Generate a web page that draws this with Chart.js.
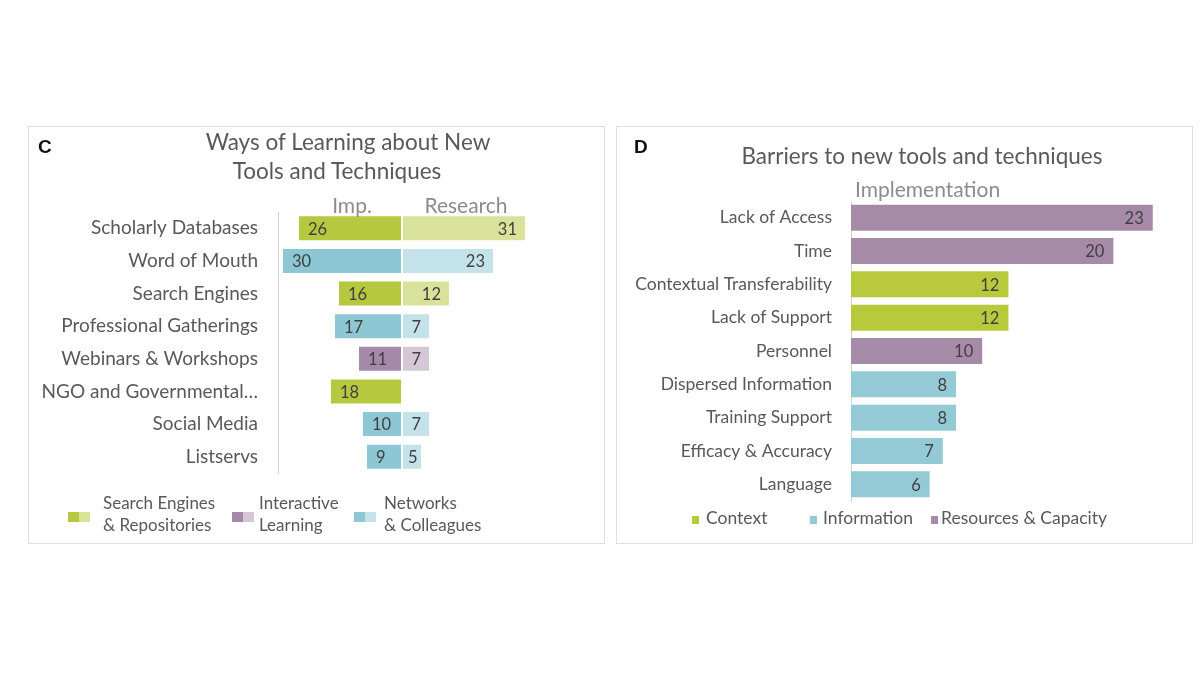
<!DOCTYPE html>
<html>
<head>
<meta charset="utf-8">
<script src="https://cdn.jsdelivr.net/npm/chart.js@4.4.1/dist/chart.umd.min.js"></script>
<style>
  body { margin: 0; width: 1200px; height: 675px; background: #fff; font-family: Lato, "Open Sans", sans-serif; position: relative; overflow: hidden; }
  .box { position: absolute; top: 126px; width: 575px; height: 416px; border: 1px solid #dedede; }
  canvas { position: absolute; top: 126px; }
  .txt { position: absolute; white-space: nowrap; color: #595959; line-height: 1; }
  .letter { font-family: "Liberation Sans", Arial, sans-serif; font-weight: bold; font-size: 19px; color: #111; }
  .sw { position: absolute; width: 11px; height: 10px; }
  .sq { position: absolute; width: 7px; height: 8px; }
</style>
</head>
<body>
<div class="box" style="left:28px"></div>
<div class="box" style="left:616px"></div>

<canvas id="chartC" width="576" height="417" style="left:28px"></canvas>
<canvas id="chartD" width="576" height="417" style="left:616px"></canvas>

<!-- Panel C texts -->
<div class="txt letter" style="left:38px;top:137px">C</div>
<div class="txt" style="left:348px;top:131px;font-size:22.5px;transform:translateX(-50%)">Ways of Learning about New</div>
<div class="txt" style="left:337px;top:160px;font-size:22.5px;transform:translateX(-50%)">Tools and Techniques</div>
<div class="txt" style="left:352px;top:194px;font-size:21px;color:#8c8c8c;transform:translateX(-50%)">Imp.</div>
<div class="txt" style="left:466px;top:194px;font-size:21px;color:#8c8c8c;transform:translateX(-50%)">Research</div>

<div id="legendC"></div>

<!-- Panel D texts -->
<div class="txt letter" style="left:634px;top:137px">D</div>
<div class="txt" style="left:922px;top:145px;font-size:22.5px;transform:translateX(-50%)">Barriers to new tools and techniques</div>
<div class="txt" style="left:855px;top:178px;font-size:21px;color:#8c8c8c">Implementation</div>

<div id="legendD"></div>

<script>
// Panel C - ways of learning
const waysLabels = ['Scholarly Databases', 'Word of Mouth', 'Search Engines', 'Professional Gatherings',
  'Webinars & Workshops', 'NGO and Governmental…', 'Social Media', 'Listservs'];
const waysImp = [26, 30, 16, 17, 11, 18, 10, 9];
const waysResearch = [31, 23, 12, 7, 7, null, 7, 5];
const waysGroup = ['search', 'networks', 'search', 'networks', 'interactive', 'search', 'networks', 'networks'];

// Panel D - barriers
const barrierLabels = ['Lack of Access', 'Time', 'Contextual Transferability', 'Lack of Support', 'Personnel',
  'Dispersed Information', 'Training Support', 'Efficacy & Accuracy', 'Language'];
const barrierValues = [23, 20, 12, 12, 10, 8, 8, 7, 6];
const barrierGroup = ['resources', 'resources', 'context', 'context', 'resources',
  'information', 'information', 'information', 'information'];

const colorsC = {
  search: { dark: '#b6c83f', light: '#d9e29a' },
  interactive: { dark: '#a688a8', light: '#d6c7d7' },
  networks: { dark: '#8ec7d4', light: '#c4e2ea' }
};
const colorsD = { context: '#b8ca3c', information: '#94cad6', resources: '#a68ba9' };

const labelFont = 'Lato, "Open Sans", sans-serif';
const grey = '#595959';

// draws the value inside each bar
const valueLabels = {
  id: 'valueLabels',
  afterDatasetsDraw(chart) {
    const ctx = chart.ctx;
    ctx.save();
    ctx.font = '16.5px ' + labelFont;
    ctx.fillStyle = '#404040';
    ctx.textBaseline = 'middle';
    chart.data.datasets.forEach((ds, i) => {
      const meta = chart.getDatasetMeta(i);
      meta.data.forEach((bar, j) => {
        const raw = ds.labelValues[j];
        if (raw == null) return;
        const txt = String(raw);
        const w = ctx.measureText(txt).width;
        const left = Math.min(bar.x, bar.base);
        const right = Math.max(bar.x, bar.base);
        let x;
        if (ds.labelSide === 'left') {
          x = left + 10;
        } else {
          x = Math.max(right - 9 - w, left + 6);
        }
        ctx.textAlign = 'left';
        ctx.fillText(txt, x, bar.y + 1);
      });
    });
    ctx.restore();
  }
};

new Chart(document.getElementById('chartC'), {
  type: 'bar',
  data: {
    labels: waysLabels,
    datasets: [
      {
        label: 'Imp.',
        data: waysImp.map(v => -v),
        labelValues: waysImp,
        labelSide: 'left',
        backgroundColor: waysGroup.map(g => colorsC[g].dark),
        borderColor: '#fff',
        borderWidth: 1,
        borderSkipped: false
      },
      {
        label: 'Research',
        data: waysResearch,
        labelValues: waysResearch,
        labelSide: 'right',
        backgroundColor: waysGroup.map(g => colorsC[g].light),
        borderColor: '#fff',
        borderWidth: 1,
        borderSkipped: false
      }
    ]
  },
  options: {
    indexAxis: 'y',
    responsive: false,
    animation: false,
    layout: { padding: { top: 86, bottom: 70, right: 22, left: 0 } },
    datasets: { bar: { categoryPercentage: 1, barPercentage: 0.8 } },
    plugins: { legend: { display: false }, tooltip: { enabled: false } },
    scales: {
      x: { display: false, stacked: true, min: -31, max: 45 },
      y: {
        stacked: true,
        grid: { display: false, drawTicks: false },
        border: { display: true, color: '#d0d0d0', width: 1 },
        ticks: { color: grey, font: { family: labelFont, size: 19 }, padding: 20 },
        afterFit(scale) { scale.width = 250; }
      }
    }
  },
  plugins: [valueLabels]
});

new Chart(document.getElementById('chartD'), {
  type: 'bar',
  data: {
    labels: barrierLabels,
    datasets: [{
      label: 'Implementation',
      data: barrierValues,
      labelValues: barrierValues,
      labelSide: 'right',
      backgroundColor: barrierGroup.map(g => colorsD[g])
    }]
  },
  options: {
    indexAxis: 'y',
    responsive: false,
    animation: false,
    layout: { padding: { top: 75, bottom: 42, right: 13, left: 0 } },
    datasets: { bar: { categoryPercentage: 1, barPercentage: 0.78 } },
    plugins: { legend: { display: false }, tooltip: { enabled: false } },
    scales: {
      x: { display: false, min: 0, max: 25 },
      y: {
        grid: { display: false, drawTicks: false },
        border: { display: true, color: '#d0d0d0', width: 1 },
        ticks: { color: grey, font: { family: labelFont, size: 17.5 }, padding: 19 },
        afterFit(scale) { scale.width = 235; }
      }
    }
  },
  plugins: [valueLabels]
});

// legends
const legendCItems = [
  { group: 'search', lines: ['Search Engines', '& Repositories'], sw: 68, tx: 103 },
  { group: 'interactive', lines: ['Interactive', 'Learning'], sw: 232, tx: 259 },
  { group: 'networks', lines: ['Networks', '& Colleagues'], sw: 354, tx: 384 }
];
const legC = document.getElementById('legendC');
legendCItems.forEach(it => {
  legC.innerHTML += `
    <div class="sw" style="left:${it.sw}px;top:512px;background:${colorsC[it.group].dark}"></div>
    <div class="sw" style="left:${it.sw + 11}px;top:512px;background:${colorsC[it.group].light}"></div>
    <div class="txt" style="left:${it.tx}px;top:494px;font-size:17px">${it.lines[0]}</div>
    <div class="txt" style="left:${it.tx}px;top:516px;font-size:17px">${it.lines[1]}</div>`;
});

const legendDItems = [
  { group: 'context', text: 'Context', sq: 692, tx: 706 },
  { group: 'information', text: 'Information', sq: 810, tx: 823 },
  { group: 'resources', text: 'Resources & Capacity', sq: 931, tx: 941 }
];
const legD = document.getElementById('legendD');
legendDItems.forEach(it => {
  legD.innerHTML += `
    <div class="sq" style="left:${it.sq}px;top:516px;background:${colorsD[it.group]}"></div>
    <div class="txt" style="left:${it.tx}px;top:509px;font-size:17.5px">${it.text.replace('&', '&amp;')}</div>`;
});
</script>
</body>
</html>
